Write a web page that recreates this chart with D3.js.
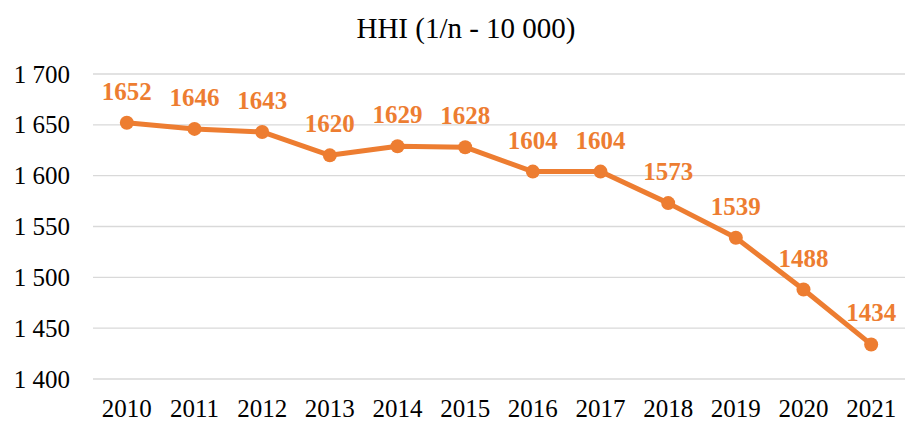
<!DOCTYPE html>
<html>
<head>
<meta charset="utf-8">
<script src="https://cdn.jsdelivr.net/npm/d3@7"></script>
<style>
  body { margin: 0; background: #fff; }
  text { font-family: "Liberation Serif", "Times New Roman", serif; }
</style>
</head>
<body>
<svg id="chart" width="913" height="421"></svg>
<script>
// data
var years = ["2010","2011","2012","2013","2014","2015","2016","2017","2018","2019","2020","2021"];
var hhi = [1652, 1646, 1643, 1620, 1629, 1628, 1604, 1604, 1573, 1539, 1488, 1434];
var yTicks = [1400, 1450, 1500, 1550, 1600, 1650, 1700];

var orange = "#ED7D31";
var margin = {top: 74, right: 8, bottom: 42, left: 93};
var width = 913, height = 421;

var svg = d3.select("#chart");

var x = d3.scaleBand()
  .domain(years)
  .range([margin.left, width - margin.right]);

var y = d3.scaleLinear()
  .domain([1400, 1700])
  .range([height - margin.bottom, margin.top]);

// gridlines
svg.append("g")
  .selectAll("line")
  .data(yTicks)
  .enter().append("line")
  .attr("x1", margin.left)
  .attr("x2", width - margin.right)
  .attr("y1", function(d){ return y(d); })
  .attr("y2", function(d){ return y(d); })
  .style("stroke", "#d9d9d9")
  .style("stroke-width", 1.3);

// y axis labels (space as thousands separator)
var fmt = function(d){ return d3.format(",")(d).replace(",", " "); };
var yAxis = d3.axisLeft(y)
  .tickValues(yTicks)
  .tickFormat(fmt)
  .tickSize(0)
  .tickPadding(23);
var gy = svg.append("g")
  .attr("transform", "translate(" + margin.left + ",0)")
  .call(yAxis);
gy.select(".domain").remove();
gy.selectAll("text")
  .style("font-size", "25px")
  .style("fill", "#000");

// x axis labels
var xAxis = d3.axisBottom(x).tickSize(0).tickPadding(20);
var gx = svg.append("g")
  .attr("transform", "translate(0," + (height - margin.bottom) + ")")
  .call(xAxis);
gx.select(".domain").remove();
gx.selectAll("text")
  .style("font-size", "25px")
  .style("fill", "#000");

var cx = function(d, i){ return x(years[i]) + x.bandwidth() / 2; };

// line
var line = d3.line()
  .x(cx)
  .y(function(d){ return y(d); });
svg.append("path")
  .datum(hhi)
  .attr("d", line)
  .style("fill", "none")
  .style("stroke", orange)
  .style("stroke-width", 5)
  .style("stroke-linejoin", "round");

// markers
svg.append("g")
  .selectAll("circle")
  .data(hhi)
  .enter().append("circle")
  .attr("cx", cx)
  .attr("cy", function(d){ return y(d); })
  .attr("r", 7)
  .style("fill", orange);

// data labels
svg.append("g")
  .selectAll("text")
  .data(hhi)
  .enter().append("text")
  .attr("x", cx)
  .attr("y", function(d){ return y(d) - 23; })
  .attr("text-anchor", "middle")
  .style("font-size", "25px")
  .style("font-weight", "bold")
  .style("fill", orange)
  .text(function(d){ return d; });

// title
svg.append("text")
  .attr("x", 466)
  .attr("y", 37.5)
  .attr("text-anchor", "middle")
  .style("font-size", "29px")
  .style("fill", "#000")
  .text("HHI (1/n - 10 000)");
</script>
</body>
</html>
